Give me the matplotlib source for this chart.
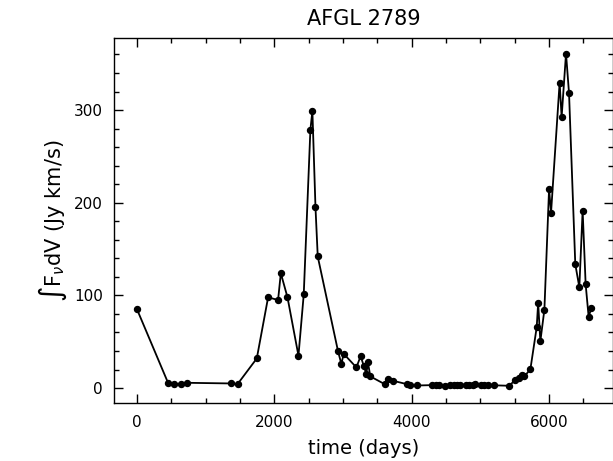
import matplotlib
matplotlib.use('Agg')
import matplotlib.pyplot as plt
from matplotlib.ticker import MultipleLocator

# observation epoch (days) and integrated line flux (Jy km/s)
days = [0, 456, 538, 635, 732, 1367, 1465, 1745, 1910, 2055, 2095, 2192,
        2352, 2429, 2526, 2555, 2600, 2633, 2928, 2977, 3011, 3196, 3258,
        3306, 3341, 3364, 3399, 3607, 3656, 3728, 3930, 3975, 4080, 4300,
        4360, 4400, 4480, 4560, 4620, 4660, 4700, 4790, 4840, 4890, 4930,
        5010, 5060, 5120, 5200, 5425, 5510, 5560, 5610, 5644, 5731, 5823,
        5844, 5876, 5935, 6003, 6032, 6157, 6186, 6250, 6294, 6385, 6444,
        6492, 6536, 6580, 6618]
flux = [85, 5, 4.3, 4, 5.7, 5, 4.3, 32, 98, 95, 124, 98,
        35, 101, 279, 299, 195, 142, 40, 26, 37, 22.3, 34.5,
        23.4, 15.2, 27.8, 12.6, 4.3, 9.7, 7.9, 4.3, 2.8, 2.8, 3.2,
        2.8, 2.8, 2.5, 3, 3, 3.2, 3.2, 3.2, 3, 3, 4.3,
        2.8, 2.8, 2.8, 3, 2.5, 9, 11, 14, 12.6, 20.4, 65.7,
        92, 50.5, 84.6, 214.7, 189.4, 329.7, 292.4, 361, 318, 133.7, 108.8,
        191.5, 112, 76.6, 86.3]

plt.rcParams['font.family'] = ['DejaVu Sans']

fig = plt.figure(figsize=(6.13, 4.61), dpi=100)
ax = fig.add_axes([0.186, 0.126, 0.8135, 0.792])

ax.plot(days, flux, color='black', lw=1.3, marker='o', ms=4.3)

ax.set_xlim(-335, 6930)
ax.set_ylim(-16, 378)
ax.xaxis.set_major_locator(MultipleLocator(2000))
ax.xaxis.set_minor_locator(MultipleLocator(500))
ax.yaxis.set_major_locator(MultipleLocator(100))
ax.yaxis.set_minor_locator(MultipleLocator(20))
ax.tick_params(which='both', direction='in', top=True, right=True,
               width=1.0, labelsize=11)
ax.tick_params(axis='x', pad=9)
ax.tick_params(axis='y', pad=8)
ax.tick_params(which='major', length=6.5)
ax.tick_params(which='minor', length=3.6)
for s in ax.spines.values():
    s.set_linewidth(1.0)

ax.set_xlabel('time (days)', fontsize=14, labelpad=6)
ax.set_ylabel(r'$\int$F$_\nu$dV (Jy km/s)', fontsize=15)
ax.yaxis.set_label_coords(-0.09, 0.5)
ax.set_title('AFGL 2789', fontsize=15, pad=9)

fig.savefig('out.png', dpi=100)
